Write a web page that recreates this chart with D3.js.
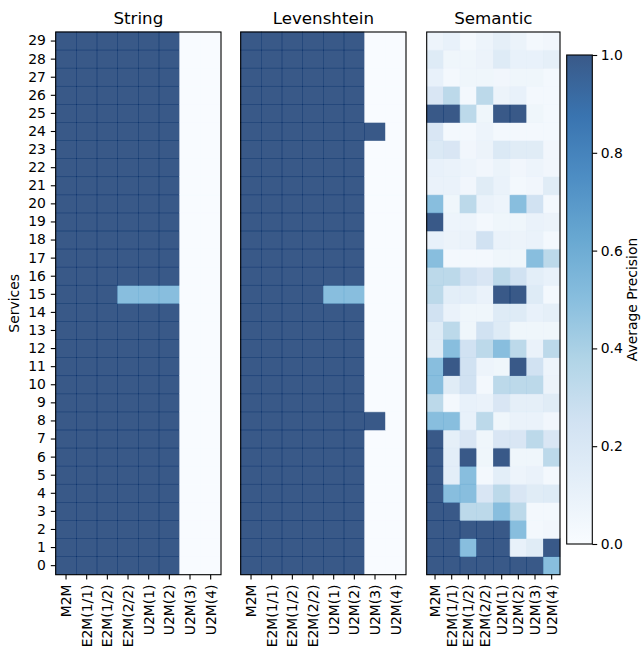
<!DOCTYPE html>
<html>
<head>
<meta charset="utf-8">
<script src="https://cdn.jsdelivr.net/npm/d3@7/dist/d3.min.js"></script>
<style>
  html, body { margin: 0; padding: 0; background: #fff; }
  svg { display: block; font-family: "DejaVu Sans", sans-serif; }
</style>
</head>
<body>
<svg id="chart" width="641" height="650"></svg>
<script>
// ---------------- DATA ----------------
const categories = ["M2M", "E2M(1/1)", "E2M(1/2)", "E2M(2/2)", "U2M(1)", "U2M(2)", "U2M(3)", "U2M(4)"];
const services = ["0","1","2","3","4","5","6","7","8","9","10","11","12","13","14","15","16","17","18","19","20","21","22","23","24","25","26","27","28","29"];
const panelTitles = ["String", "Levenshtein", "Semantic"];
const colorbarTicks = [0, 0.2, 0.4, 0.6, 0.8, 1.0];

// rows: service 0 .. 29 ; columns: categories
const stringValues = [
  [1,1,1,1,1,1,0,0], [1,1,1,1,1,1,0,0], [1,1,1,1,1,1,0,0], [1,1,1,1,1,1,0,0], [1,1,1,1,1,1,0,0],
  [1,1,1,1,1,1,0,0], [1,1,1,1,1,1,0,0], [1,1,1,1,1,1,0,0], [1,1,1,1,1,1,0,0], [1,1,1,1,1,1,0,0],
  [1,1,1,1,1,1,0,0], [1,1,1,1,1,1,0,0], [1,1,1,1,1,1,0,0], [1,1,1,1,1,1,0,0], [1,1,1,1,1,1,0,0],
  [1,1,1,0.5,0.5,0.5,0,0], [1,1,1,1,1,1,0,0], [1,1,1,1,1,1,0,0], [1,1,1,1,1,1,0,0], [1,1,1,1,1,1,0,0],
  [1,1,1,1,1,1,0,0], [1,1,1,1,1,1,0,0], [1,1,1,1,1,1,0,0], [1,1,1,1,1,1,0,0], [1,1,1,1,1,1,0,0],
  [1,1,1,1,1,1,0,0], [1,1,1,1,1,1,0,0], [1,1,1,1,1,1,0,0], [1,1,1,1,1,1,0,0], [1,1,1,1,1,1,0,0]
];
const levenshteinValues = [
  [1,1,1,1,1,1,0,0], [1,1,1,1,1,1,0,0], [1,1,1,1,1,1,0,0], [1,1,1,1,1,1,0,0], [1,1,1,1,1,1,0,0],
  [1,1,1,1,1,1,0,0], [1,1,1,1,1,1,0,0], [1,1,1,1,1,1,0,0], [1,1,1,1,1,1,1,0], [1,1,1,1,1,1,0,0],
  [1,1,1,1,1,1,0,0], [1,1,1,1,1,1,0,0], [1,1,1,1,1,1,0,0], [1,1,1,1,1,1,0,0], [1,1,1,1,1,1,0,0],
  [1,1,1,1,0.5,0.5,0,0], [1,1,1,1,1,1,0,0], [1,1,1,1,1,1,0,0], [1,1,1,1,1,1,0,0], [1,1,1,1,1,1,0,0],
  [1,1,1,1,1,1,0,0], [1,1,1,1,1,1,0,0], [1,1,1,1,1,1,0,0], [1,1,1,1,1,1,0,0], [1,1,1,1,1,1,1,0],
  [1,1,1,1,1,1,0,0], [1,1,1,1,1,1,0,0], [1,1,1,1,1,1,0,0], [1,1,1,1,1,1,0,0], [1,1,1,1,1,1,0,0]
];
const semanticValues = [
  [1, 1, 1, 1, 1, 1, 1, 0.5],                          // 0
  [1, 1, 0.5, 1, 1, 0.1, 0.15, 1],                     // 1
  [1, 1, 1, 1, 1, 0.5, 0.03, 0.045],                   // 2
  [1, 1, 0.33, 0.33, 0.5, 0.33, 0.03, 0.03],           // 3
  [1, 0.5, 0.5, 0.2, 0.33, 0.2, 0.15, 0.16],           // 4
  [1, 0.13, 0.5, 0.03, 0.13, 0.07, 0.09, 0.03],        // 5
  [1, 0.13, 1, 0.055, 1, 0.055, 0.055, 0.33],          // 6
  [1, 0.12, 0.2, 0.055, 0.2, 0.2, 0.33, 0.2],          // 7
  [0.5, 0.5, 0.1, 0.33, 0.055, 0.09, 0.09, 0.045],     // 8
  [0.33, 0.03, 0.1, 0.09, 0.2, 0.12, 0.12, 0.15],      // 9
  [0.5, 0.15, 0.25, 0.03, 0.33, 0.33, 0.33, 0.075],    // 10
  [0.5, 1, 0.25, 0.07, 0.055, 1, 0.25, 0.07],          // 11
  [0.15, 0.5, 0.25, 0.33, 0.5, 0.33, 0.09, 0.33],      // 12
  [0.16, 0.33, 0.055, 0.25, 0.16, 0.055, 0.055, 0.055],// 13
  [0.25, 0.09, 0.055, 0.055, 0.16, 0.16, 0.1, 0.12],   // 14
  [0.33, 0.13, 0.13, 0.09, 1, 1, 0.16, 0.03],          // 15
  [0.33, 0.33, 0.25, 0.2, 0.33, 0.25, 0.13, 0.1],      // 16
  [0.5, 0.03, 0.03, 0.03, 0.055, 0.055, 0.5, 0.33],    // 17
  [0.1, 0.075, 0.09, 0.25, 0.09, 0.075, 0.09, 0.03],   // 18
  [1, 0.07, 0.07, 0.03, 0.055, 0.055, 0.09, 0.075],    // 19
  [0.5, 0.055, 0.33, 0.09, 0.07, 0.5, 0.25, 0.03],     // 20
  [0.09, 0.09, 0.045, 0.15, 0.09, 0.03, 0.045, 0.15],  // 21
  [0.1, 0.09, 0.07, 0.045, 0.08, 0.045, 0.07, 0.045],  // 22
  [0.18, 0.2, 0.045, 0.075, 0.18, 0.15, 0.15, 0.045],  // 23
  [0.2, 0.03, 0.03, 0.07, 0.03, 0.03, 0.03, 0.03],     // 24
  [1, 1, 0.33, 0.055, 1, 1, 0.055, 0.03],              // 25
  [0.2, 0.33, 0.03, 0.33, 0.075, 0.1, 0.03, 0.03],     // 26
  [0.1, 0.03, 0.055, 0.055, 0.045, 0.055, 0.055, 0.03],// 27
  [0.16, 0.055, 0.055, 0.075, 0.16, 0.1, 0.1, 0.12],   // 28
  [0.07, 0.1, 0.03, 0.07, 0.12, 0.08, 0.03, 0.045]     // 29
];

// ---------------- STYLE / LAYOUT ----------------
const blueStops = ["#f7fbff","#deebf7","#c6dbef","#9ecae1","#6baed6","#4292c6","#2171b5","#08519c","#08306b"];
const stopPos = blueStops.map((_, i) => i / (blueStops.length - 1));
const color = d3.scaleLinear().domain(stopPos).range(blueStops).clamp(true);
const cellAlpha = 0.8;

const plotTop = 32, plotBottom = 574.7;
const panels = [
  { title: panelTitles[0], values: stringValues, x0: 55.7, x1: 221.0, yAxis: true },
  { title: panelTitles[1], values: levenshteinValues, x0: 240.7, x1: 406.0, yAxis: false },
  { title: panelTitles[2], values: semanticValues, x0: 426.7, x1: 560.0, yAxis: false }
];

const svg = d3.select("#chart");
const tickFont = 13.9;

const yScale = d3.scaleBand().domain(services.slice().reverse()).range([plotTop, plotBottom]).padding(0);

panels.forEach(p => {
  const x = d3.scaleBand().domain(categories).range([p.x0, p.x1]).padding(0);
  const g = svg.append("g");

  const cells = [];
  p.values.forEach((row, ri) => row.forEach((v, ci) => cells.push({ s: services[ri], c: categories[ci], v })));

  const cg = g.append("g");
  cg.selectAll("rect").data(cells).join("rect")
    .attr("x", d => x(d.c))
    .attr("y", d => yScale(d.s))
    .attr("width", x.bandwidth())
    .attr("height", yScale.bandwidth())
    .attr("fill", d => color(d.v))
    .attr("stroke", d => color(d.v))
    .attr("stroke-width", 0.6)
    .attr("opacity", cellAlpha);

  // spines
  g.append("rect")
    .attr("x", p.x0).attr("y", plotTop)
    .attr("width", p.x1 - p.x0).attr("height", plotBottom - plotTop)
    .attr("fill", "none").attr("stroke", "#000").attr("stroke-width", 1.1);

  // x axis
  const xa = g.append("g").attr("transform", `translate(0,${plotBottom})`)
    .call(d3.axisBottom(x).tickSize(4.9).tickPadding(4.9));
  xa.select(".domain").remove();
  xa.selectAll(".tick line").attr("stroke", "#000").attr("stroke-width", 1.1);
  xa.selectAll(".tick text")
    .attr("font-size", tickFont)
    .attr("font-family", "DejaVu Sans")
    .attr("fill", "#000")
    .attr("transform", "rotate(-90)")
    .attr("x", -9.8)
    .attr("y", 0)
    .attr("dy", "0.35em")
    .attr("text-anchor", "end");

  if (p.yAxis) {
    const ya = g.append("g").attr("transform", `translate(${p.x0},0)`)
      .call(d3.axisLeft(yScale).tickSize(4.9).tickPadding(4.9));
    ya.select(".domain").remove();
    ya.selectAll(".tick line").attr("stroke", "#000").attr("stroke-width", 1.1);
    ya.selectAll(".tick text")
      .attr("font-size", tickFont)
      .attr("font-family", "DejaVu Sans")
      .attr("fill", "#000");
    g.append("text")
      .attr("transform", `translate(14,${(plotTop + plotBottom) / 2}) rotate(-90)`)
      .attr("text-anchor", "middle")
      .attr("dy", "0.35em")
      .attr("font-size", tickFont)
      .attr("fill", "#000")
      .text("Services");
  }

  g.append("text")
    .attr("x", (p.x0 + p.x1) / 2)
    .attr("y", plotTop - 8.3)
    .attr("text-anchor", "middle")
    .attr("font-size", 16.7)
    .attr("fill", "#000")
    .text(p.title);
});

// ---------------- COLORBAR ----------------
const cbX0 = 566.7, cbX1 = 592.3, cbTop = 55, cbBottom = 544;
const defs = svg.append("defs");
const grad = defs.append("linearGradient").attr("id", "cbgrad")
  .attr("x1", 0).attr("y1", 1).attr("x2", 0).attr("y2", 0);
grad.selectAll("stop").data(blueStops).join("stop")
  .attr("offset", (d, i) => stopPos[i])
  .attr("stop-color", d => d)
  .attr("stop-opacity", cellAlpha);

svg.append("rect")
  .attr("x", cbX0).attr("y", cbTop)
  .attr("width", cbX1 - cbX0).attr("height", cbBottom - cbTop)
  .attr("fill", "url(#cbgrad)")
  .attr("stroke", "#000").attr("stroke-width", 1.1);

const cbScale = d3.scaleLinear().domain([0, 1]).range([cbBottom, cbTop]);
const cba = svg.append("g").attr("transform", `translate(${cbX1},0)`)
  .call(d3.axisRight(cbScale).tickValues(colorbarTicks).tickFormat(d3.format(".1f")).tickSize(4.9).tickPadding(3.5));
cba.select(".domain").remove();
cba.selectAll(".tick line").attr("stroke", "#000").attr("stroke-width", 1.1);
cba.selectAll(".tick text")
  .attr("font-size", tickFont)
  .attr("font-family", "DejaVu Sans")
  .attr("fill", "#000");

svg.append("text")
  .attr("transform", `translate(632,${(cbTop + cbBottom) / 2}) rotate(-90)`)
  .attr("text-anchor", "middle")
  .attr("dy", "0.35em")
  .attr("font-size", tickFont)
  .attr("fill", "#000")
  .text("Average Precision");
</script>
</body>
</html>
